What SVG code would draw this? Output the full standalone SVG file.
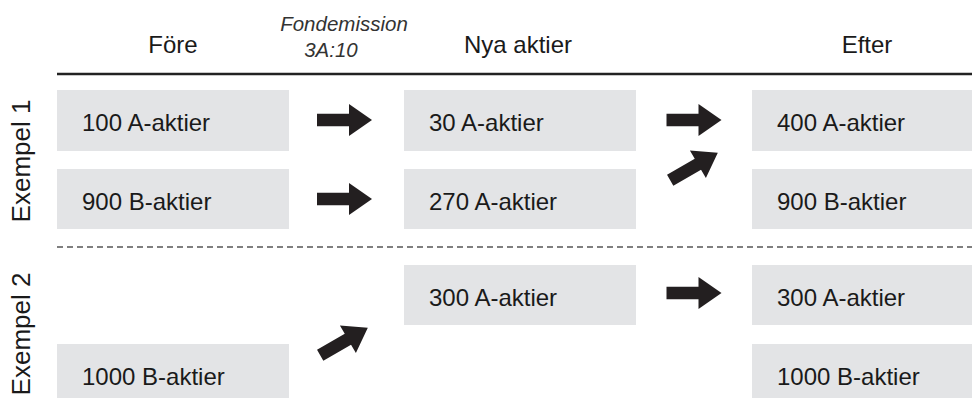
<svg xmlns="http://www.w3.org/2000/svg" xmlns:xlink="http://www.w3.org/1999/xlink" width="972" height="398" viewBox="0 0 972 398">
<style>
.box{fill:#e3e4e6}
.t{font-family:"Liberation Sans",Arial,sans-serif;font-size:24px;fill:#1a1a1a}
.h{font-family:"Liberation Sans",Arial,sans-serif;font-size:24px;fill:#1a1a1a;text-anchor:middle}
.it{font-family:"Liberation Sans",Arial,sans-serif;font-size:20.5px;font-style:italic;fill:#333;text-anchor:middle}
.ex{font-family:"Liberation Sans",Arial,sans-serif;font-size:26px;fill:#1a1a1a;text-anchor:middle}
.arr{fill:#231f20}
</style>
<defs>
<path id="arrow" d="M-27.5,-6.3 H4.5 V-16 L27.5,0 L4.5,16 V6.3 H-27.5 Z"/>
</defs>
<rect width="972" height="398" fill="#ffffff"/>
<g id="headers">
<text class="h" x="173" y="53">Före</text>
<text class="it" x="344" y="31">Fondemission</text>
<text class="it" x="331" y="57">3A:10</text>
<text class="h" x="518" y="53">Nya aktier</text>
<text class="h" x="867" y="53">Efter</text>
<line x1="57" y1="74" x2="972" y2="74" stroke="#222" stroke-width="2.5"/>
<line x1="57" y1="247" x2="972" y2="247" stroke="#555" stroke-width="1.5" stroke-dasharray="6 4"/>
<text class="ex" transform="translate(30,161) rotate(-90)">Exempel 1</text>
<text class="ex" transform="translate(30,334) rotate(-90)">Exempel 2</text>
</g>
<g id="e1-fore-a"><rect class="box" x="57" y="90" width="232" height="61"/><text class="t" x="82" y="131">100 A-aktier</text></g>
<g id="e1-fore-b"><rect class="box" x="57" y="169" width="232" height="60"/><text class="t" x="82" y="210">900 B-aktier</text></g>
<g id="e1-nya-a"><rect class="box" x="404" y="90" width="232" height="61"/><text class="t" x="429" y="131">30 A-aktier</text></g>
<g id="e1-nya-b"><rect class="box" x="404" y="169" width="232" height="60"/><text class="t" x="429" y="210">270 A-aktier</text></g>
<g id="e1-efter-a"><rect class="box" x="752" y="90" width="230" height="61"/><text class="t" x="777" y="131">400 A-aktier</text></g>
<g id="e1-efter-b"><rect class="box" x="752" y="169" width="230" height="60"/><text class="t" x="777" y="210">900 B-aktier</text></g>
<g id="e2-nya-a"><rect class="box" x="404" y="265" width="232" height="60"/><text class="t" x="429" y="306">300 A-aktier</text></g>
<g id="e2-fore-b"><rect class="box" x="57" y="344" width="232" height="60"/><text class="t" x="82" y="385">1000 B-aktier</text></g>
<g id="e2-efter-a"><rect class="box" x="752" y="265" width="230" height="60"/><text class="t" x="777" y="306">300 A-aktier</text></g>
<g id="e2-efter-b"><rect class="box" x="752" y="344" width="230" height="60"/><text class="t" x="777" y="385">1000 B-aktier</text></g>
<g id="connectors" class="arr">
<use xlink:href="#arrow" href="#arrow" transform="translate(344.5,120)"/>
<use xlink:href="#arrow" href="#arrow" transform="translate(344.5,199)"/>
<use xlink:href="#arrow" href="#arrow" transform="translate(694,120)"/>
<use xlink:href="#arrow" href="#arrow" transform="translate(694,166.5) rotate(-30)"/>
<use xlink:href="#arrow" href="#arrow" transform="translate(344,341.5) rotate(-30)"/>
<use xlink:href="#arrow" href="#arrow" transform="translate(694,293)"/>
</g>
</svg>
